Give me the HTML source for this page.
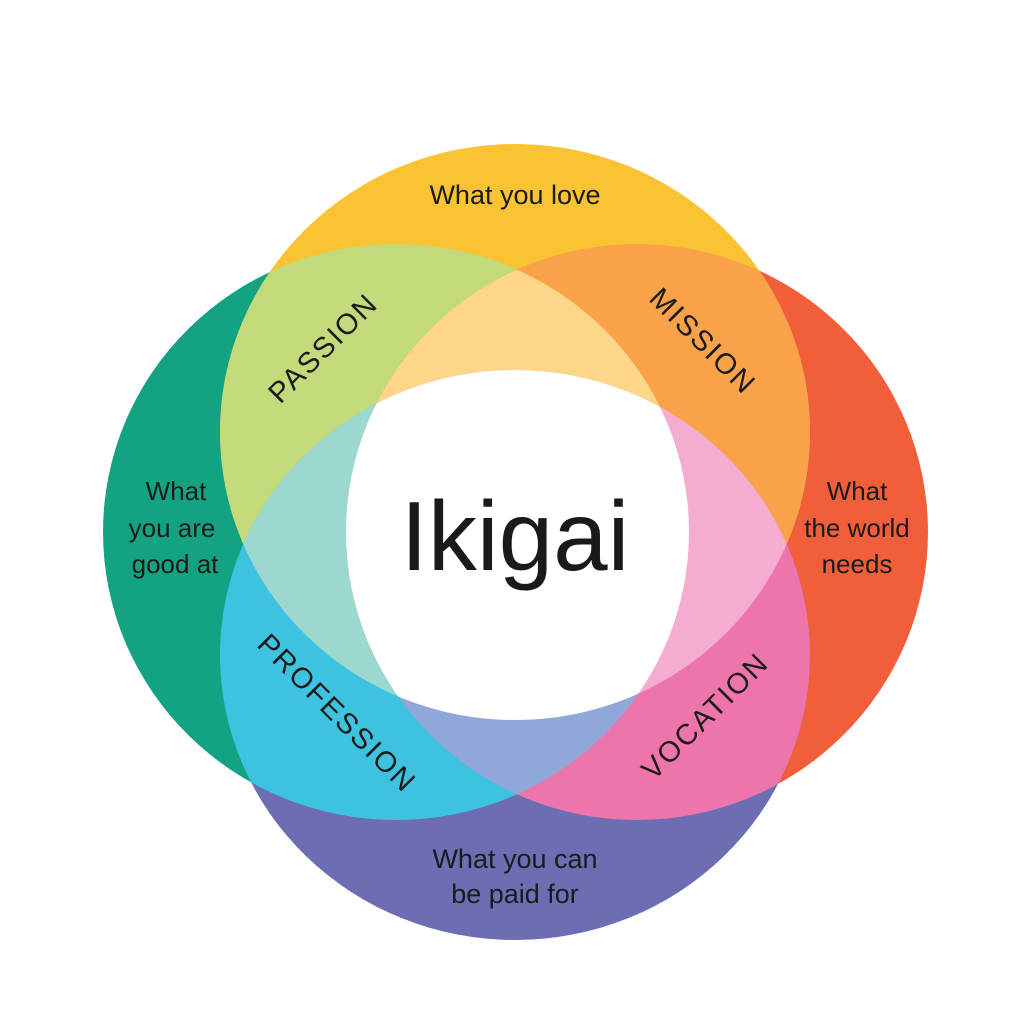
<!DOCTYPE html>
<html><head><meta charset="utf-8"><style>
html,body{margin:0;padding:0;background:#fff;}
svg{display:block;}
text{font-family:"Liberation Sans",sans-serif;fill:#1a1a1a;}
</style></head><body>
<svg width="1027" height="1031" viewBox="0 0 1027 1031" xmlns="http://www.w3.org/2000/svg">
<defs>
<clipPath id="T"><ellipse cx="515" cy="432" rx="295" ry="288"/></clipPath>
<clipPath id="L"><ellipse cx="396" cy="532" rx="293" ry="288"/></clipPath>
<clipPath id="R"><ellipse cx="637" cy="532" rx="291" ry="288"/></clipPath>
<clipPath id="B"><ellipse cx="515" cy="655" rx="295" ry="285"/></clipPath>
</defs>
<ellipse cx="396" cy="532" rx="293" ry="288" fill="#13A383"/>
<ellipse cx="637" cy="532" rx="291" ry="288" fill="#F05F3A"/>
<ellipse cx="515" cy="432" rx="295" ry="288" fill="#F9C333"/>
<ellipse cx="515" cy="655" rx="295" ry="285" fill="#6C6DB3"/>
<g clip-path="url(#T)"><ellipse cx="396" cy="532" rx="293" ry="288" fill="#C3DA7A"/></g>
<g clip-path="url(#T)"><ellipse cx="637" cy="532" rx="291" ry="288" fill="#F9A24A"/></g>
<g clip-path="url(#B)"><ellipse cx="396" cy="532" rx="293" ry="288" fill="#3DC3E0"/></g>
<g clip-path="url(#B)"><ellipse cx="637" cy="532" rx="291" ry="288" fill="#EE75AB"/></g>
<g clip-path="url(#T)"><g clip-path="url(#L)"><ellipse cx="637" cy="532" rx="291" ry="288" fill="#FDD68A"/></g></g>
<g clip-path="url(#B)"><g clip-path="url(#L)"><ellipse cx="637" cy="532" rx="291" ry="288" fill="#8FA8D9"/></g></g>
<g clip-path="url(#T)"><g clip-path="url(#B)"><ellipse cx="396" cy="532" rx="293" ry="288" fill="#9DD8CF"/></g></g>
<g clip-path="url(#T)"><g clip-path="url(#B)"><ellipse cx="637" cy="532" rx="291" ry="288" fill="#F4ADCF"/></g></g>
<g clip-path="url(#T)"><g clip-path="url(#B)"><g clip-path="url(#L)"><ellipse cx="637" cy="532" rx="291" ry="288" fill="#FFFFFF"/></g></g></g>

<text x="515" y="204" font-size="27" text-anchor="middle">What you love</text>
<text x="176" y="500" font-size="26" text-anchor="middle">What</text>
<text x="172" y="537" font-size="26" text-anchor="middle">you are</text>
<text x="175" y="573" font-size="26" text-anchor="middle">good at</text>
<text x="857" y="500" font-size="26" text-anchor="middle">What</text>
<text x="857" y="537" font-size="26" text-anchor="middle">the world</text>
<text x="857" y="573" font-size="26" text-anchor="middle">needs</text>
<text x="515" y="868" font-size="27" text-anchor="middle">What you can</text>
<text x="515" y="903" font-size="27" text-anchor="middle">be paid for</text>
<text x="515" y="570" font-size="98" text-anchor="middle">Ikigai</text>

<text font-size="29" letter-spacing="2" text-anchor="middle" transform="translate(330,355) rotate(-45)">PASSION</text>
<text font-size="29" letter-spacing="2" text-anchor="middle" transform="translate(696,348) rotate(45)">MISSION</text>
<text font-size="29" letter-spacing="2" text-anchor="middle" transform="translate(330,720) rotate(45)">PROFESSION</text>
<text font-size="29" letter-spacing="2" text-anchor="middle" transform="translate(712,723) rotate(-45)">VOCATION</text>
</svg>
</body></html>
